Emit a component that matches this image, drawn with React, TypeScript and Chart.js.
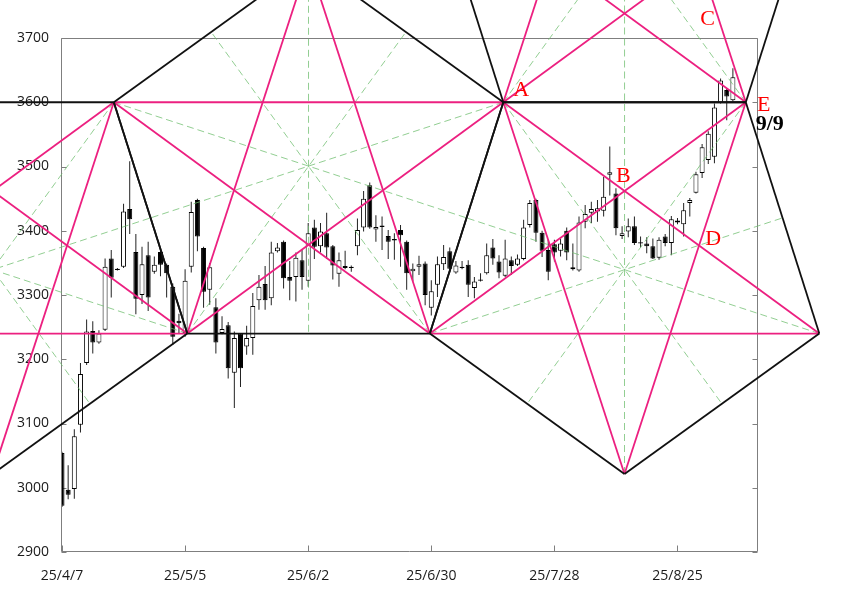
import React, { useEffect, useRef } from 'react';
import { Chart, registerables } from 'chart.js';

Chart.register(...registerables);

// ---- axis ticks ----
const xTickIdx = [0, 20, 40, 60, 80, 100];
const xTickLabels = ['25/4/7', '25/5/5', '25/6/2', '25/6/30', '25/7/28', '25/8/25'];
const yTicks = [2900, 3000, 3100, 3200, 3300, 3400, 3500, 3600, 3700];

// ---- daily candles (index = trading slot from 25/4/7) ----
const opens = [
  3054, 2997, 2998, 3098, 3194, 3244, 3226, 3246, 3357, 3341,
  3344, 3434, 3367, 3300, 3362, 3336, 3367, 3347, 3313, 3260,
  3241, 3344, 3448, 3373, 3308, 3281, 3241, 3253, 3179, 3240,
  3220, 3233, 3292, 3317, 3295, 3368, 3383, 3328, 3328, 3354,
  3322, 3405, 3376, 3396, 3376, 3333, 3345, 3344, 3376, 3405,
  3471, 3402, 3408, 3392, 3387, 3401, 3383, 3337, 3344, 3349,
  3280, 3316, 3348, 3368, 3335, 3344, 3347, 3311, 3324, 3334,
  3374, 3352, 3330, 3354, 3347, 3356, 3409, 3448, 3397, 3370,
  3379, 3369, 3400, 3343, 3338, 3414, 3428, 3430, 3431, 3487,
  3458, 3392, 3399, 3407, 3382, 3380, 3376, 3358, 3391, 3381,
  3413, 3410, 3443, 3459, 3490, 3510, 3515, 3599, 3619, 3603,
];
const highs = [
  3056, 3035, 3091, 3194, 3262, 3259, 3245, 3357, 3370, 3342,
  3442, 3508, 3395, 3375, 3383, 3360, 3370, 3349, 3318, 3271,
  3340, 3445, 3450, 3375, 3350, 3295, 3267, 3258, 3243, 3241,
  3252, 3303, 3331, 3345, 3383, 3381, 3385, 3353, 3366, 3370,
  3412, 3417, 3412, 3428, 3378, 3366, 3369, 3346, 3419, 3462,
  3475, 3424, 3422, 3401, 3396, 3409, 3385, 3349, 3361, 3352,
  3323, 3360, 3378, 3374, 3353, 3353, 3354, 3328, 3334, 3380,
  3387, 3362, 3386, 3360, 3363, 3417, 3448, 3450, 3400, 3386,
  3386, 3388, 3405, 3380, 3422, 3440, 3445, 3448, 3484, 3531,
  3466, 3407, 3419, 3422, 3391, 3390, 3388, 3390, 3395, 3423,
  3420, 3443, 3451, 3492, 3535, 3555, 3598, 3637, 3622, 3653,
];
const lows = [
  2970, 2982, 2983, 3086, 3191, 3209, 3224, 3244, 3296, 3338,
  3342, 3395, 3270, 3286, 3275, 3333, 3329, 3296, 3222, 3240,
  3235, 3335, 3368, 3280, 3285, 3209, 3239, 3170, 3124, 3157,
  3207, 3207, 3277, 3277, 3284, 3366, 3310, 3292, 3290, 3308,
  3313, 3356, 3366, 3356, 3324, 3313, 3340, 3336, 3362, 3399,
  3403, 3383, 3370, 3356, 3355, 3344, 3308, 3321, 3331, 3284,
  3268, 3297, 3339, 3335, 3333, 3340, 3297, 3295, 3321, 3332,
  3347, 3326, 3328, 3331, 3345, 3354, 3405, 3383, 3359, 3323,
  3352, 3360, 3354, 3338, 3336, 3404, 3412, 3414, 3422, 3455,
  3393, 3387, 3390, 3378, 3374, 3365, 3356, 3355, 3376, 3362,
  3410, 3391, 3422, 3458, 3482, 3504, 3505, 3598, 3572, 3601,
];
const closes = [
  2972, 2989, 3080, 3177, 3243, 3226, 3240, 3344, 3327, 3339,
  3430, 3418, 3294, 3348, 3296, 3347, 3347, 3334, 3235, 3256,
  3322, 3429, 3391, 3305, 3343, 3226, 3247, 3186, 3233, 3186,
  3233, 3283, 3313, 3292, 3366, 3374, 3326, 3322, 3358, 3328,
  3396, 3375, 3399, 3374, 3346, 3354, 3342, 3342, 3401, 3450,
  3405, 3406, 3406, 3383, 3385, 3393, 3334, 3341, 3348, 3300,
  3306, 3348, 3359, 3341, 3346, 3342, 3316, 3321, 3322, 3362,
  3357, 3335, 3357, 3345, 3357, 3405, 3443, 3397, 3369, 3336,
  3366, 3380, 3366, 3340, 3413, 3426, 3434, 3435, 3453, 3491,
  3404, 3396, 3407, 3381, 3380, 3376, 3357, 3386, 3381, 3418,
  3416, 3432, 3448, 3488, 3530, 3551, 3592, 3634, 3609, 3639,
];

// ---- pentagon vertices (slot index, price), listed round each pentagon ----
const pentLeftIdx = [-30.98, 8.42, 20.36, -11.28, -42.92];
const pentLeftPrice = [3600, 3600, 3240, 3021.4, 3240];
const pentMidIdx = [40.05, 71.7, 59.76, 20.36, 8.42];
const pentMidPrice = [3818.6, 3600, 3240, 3240, 3600];
const pentRightIdx = [71.7, 111.1, 123.04, 91.39, 59.76];
const pentRightPrice = [3600, 3600, 3240, 3021.4, 3240];
const pentUpIdx = [91.39, 123.04, 111.1, 71.7, 59.76];
const pentUpPrice = [4178.6, 3960, 3600, 3600, 3960];

// ---- text marks ----
const letterText = ['A', 'B', 'C', 'D', 'E'];
const letterIdx = [74.6, 91.2, 104.9, 105.8, 114.0];
const letterPrice = [3621, 3488, 3732, 3389, 3597];
const dateText = ['9/9'];
const dateIdx = [115.0];
const datePrice = [3568];

type Pt = { x: number; y: number };

const pentagons = [
  { idx: pentLeftIdx, price: pentLeftPrice },
  { idx: pentMidIdx, price: pentMidPrice },
  { idx: pentRightIdx, price: pentRightPrice },
  { idx: pentUpIdx, price: pentUpPrice },
];

const BLACK = '#111111';
const PINK = 'rgb(236,32,128)';
const GREEN = 'rgba(110,190,110,0.75)';

function buildLineDatasets() {
  const edges: [Pt, Pt][] = [];
  const diags: [Pt, Pt][] = [];
  const axes: [Pt, Pt][] = [];
  for (const p of pentagons) {
    const v = (i: number): Pt => {
      const k = ((i % 5) + 5) % 5;
      return { x: p.idx[k], y: p.price[k] };
    };
    for (let i = 0; i < 5; i++) {
      edges.push([v(i), v(i + 1)]);
      diags.push([v(i), v(i + 2)]);
      const a = v(i + 2);
      const b = v(i + 3);
      axes.push([v(i), { x: (a.x + b.x) / 2, y: (a.y + b.y) / 2 }]);
    }
  }
  const mk = (seg: [Pt, Pt], color: string, width: number, order: number, dash: number[]) => ({
    type: 'line' as const,
    data: [seg[0], seg[1]],
    borderColor: color,
    borderWidth: width,
    borderDash: dash,
    pointRadius: 0,
    pointHoverRadius: 0,
    tension: 0,
    fill: false,
    clip: false as const,
    order,
  });
  return [
    ...axes.map((s) => mk(s, GREEN, 1, 3, [7, 4])),
    ...diags.map((s) => mk(s, PINK, 1.8, 2, [])),
    ...edges.map((s) => mk(s, BLACK, 1.8, 1, [])),
  ];
}

const framePlugin = {
  id: 'frame',
  beforeDatasetsDraw(chart: any) {
    const { ctx, chartArea: a, scales } = chart;
    const L = Math.round(a.left) - 0.5;
    const R = Math.round(a.right) - 0.5;
    const T = Math.round(a.top) + 0.5;
    const B = Math.round(a.bottom) - 0.5;
    ctx.save();
    ctx.strokeStyle = '#7f7f7f';
    ctx.lineWidth = 1;
    ctx.beginPath();
    ctx.rect(L, T, R - L, B - T);
    for (const v of yTicks) {
      const y = Math.round(scales.y.getPixelForValue(v)) + 0.5;
      ctx.moveTo(L, y);
      ctx.lineTo(L + 5, y);
      ctx.moveTo(R, y);
      ctx.lineTo(R - 5, y);
    }
    for (const v of xTickIdx) {
      const x = Math.round(scales.x.getPixelForValue(v)) + 0.5;
      ctx.moveTo(x, B);
      ctx.lineTo(x, B - 6);
    }
    ctx.stroke();
    ctx.restore();
  },
};

const textPlugin = {
  id: 'letters',
  afterDatasetsDraw(chart: any) {
    const { ctx, scales } = chart;
    ctx.save();
    ctx.textAlign = 'center';
    ctx.textBaseline = 'alphabetic';
    ctx.fillStyle = '#ff0000';
    ctx.font = '22px "Liberation Serif"';
    letterText.forEach((t, i) => {
      ctx.fillText(t, scales.x.getPixelForValue(letterIdx[i]), scales.y.getPixelForValue(letterPrice[i]) + 7.3);
    });
    ctx.fillStyle = '#000000';
    ctx.font = 'bold 22px "Liberation Serif"';
    dateText.forEach((t, i) => {
      ctx.fillText(t, scales.x.getPixelForValue(dateIdx[i]), scales.y.getPixelForValue(datePrice[i]) + 7.4);
    });
    ctx.restore();
  },
};

export default function App() {
  const ref = useRef<HTMLCanvasElement>(null);

  useEffect(() => {
    const canvas = ref.current;
    if (!canvas) return;
    const wickData = opens.map((_, i) => ({ x: i, y: [lows[i], highs[i]] }));
    const bodyData = opens.map((o, i) => ({ x: i, y: [o, closes[i]] }));
    const bodyColors = opens.map((o, i) => (closes[i] >= o ? '#ffffff' : '#000000'));
    const tickFont = { family: '"Open Sans"', size: 14 };

    const chart = new Chart(canvas, {
      type: 'bar',
      data: {
        datasets: [
          ...(buildLineDatasets() as any[]),
          {
            type: 'bar',
            data: wickData as any,
            backgroundColor: '#222222',
            borderWidth: 0,
            barThickness: 1,
            grouped: false,
            inflateAmount: 0,
            order: 6,
          } as any,
          {
            type: 'bar',
            data: bodyData as any,
            backgroundColor: bodyColors,
            borderColor: '#000000',
            borderWidth: 1,
            borderSkipped: false,
            barThickness: 5,
            grouped: false,
            inflateAmount: 0,
            order: 5,
          } as any,
        ],
      },
      options: {
        animation: false,
        responsive: false,
        devicePixelRatio: 1,
        events: [],
        layout: { padding: { top: 38, right: 87, left: 0, bottom: 0 } },
        plugins: { legend: { display: false }, tooltip: { enabled: false } },
        scales: {
          x: {
            type: 'linear',
            min: 0,
            max: 113.08,
            offset: false,
            grid: { display: false, drawTicks: false },
            border: { display: false },
            afterBuildTicks: (s: any) => {
              s.ticks = xTickIdx.map((v) => ({ value: v }));
            },
            afterFit: (s: any) => {
              s.height = 39;
            },
            ticks: {
              autoSkip: false,
              maxRotation: 0,
              minRotation: 0,
              padding: 16,
              color: '#1a1a1a',
              font: tickFont,
              callback: (v: any) => {
                const k = xTickIdx.indexOf(Number(v));
                return k >= 0 ? xTickLabels[k] : '';
              },
            },
          },
          y: {
            type: 'linear',
            min: 2900,
            max: 3700,
            grid: { display: false, drawTicks: false },
            border: { display: false },
            afterBuildTicks: (s: any) => {
              s.ticks = yTicks.map((v) => ({ value: v }));
            },
            afterFit: (s: any) => {
              s.width = 62;
            },
            ticks: {
              padding: 13,
              color: '#1a1a1a',
              font: tickFont,
              callback: (v: any) => String(v),
            },
          },
        },
      } as any,
      plugins: [framePlugin, textPlugin],
    });
    return () => chart.destroy();
  }, []);

  return (
    <div style={{ position: 'fixed', left: 0, top: 0, width: 845, height: 591, background: '#ffffff' }}>
      <canvas ref={ref} width={845} height={591} style={{ display: 'block', width: 845, height: 591 }} />
    </div>
  );
}
